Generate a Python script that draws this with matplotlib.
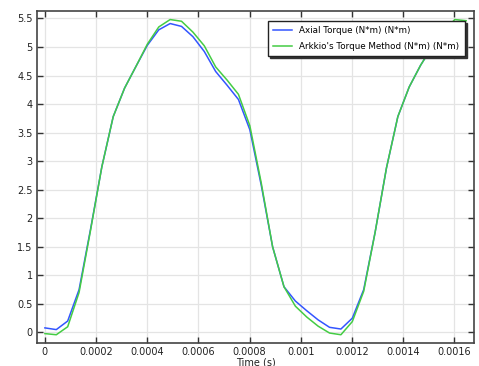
import matplotlib
matplotlib.use("Agg")
import matplotlib.pyplot as plt
from matplotlib.ticker import FuncFormatter

# time samples (s)
time_s = [0.0, 4.45e-5, 8.9e-5, 1.335e-4, 1.78e-4, 2.225e-4, 2.67e-4, 3.115e-4,
          3.56e-4, 4.005e-4, 4.45e-4, 4.895e-4, 5.34e-4, 5.785e-4, 6.23e-4,
          6.675e-4, 7.12e-4, 7.565e-4, 8.01e-4, 8.455e-4, 8.9e-4, 9.345e-4,
          9.79e-4, 1.0235e-3, 1.068e-3, 1.1125e-3, 1.157e-3, 1.2015e-3,
          1.246e-3, 1.2905e-3, 1.335e-3, 1.3795e-3, 1.424e-3, 1.4685e-3,
          1.513e-3, 1.5575e-3, 1.602e-3, 1.6465e-3]

axial_torque = [0.08, 0.05, 0.20, 0.75, 1.80, 2.90, 3.78, 4.28,
                4.66, 5.03, 5.30, 5.41, 5.36, 5.18, 4.92,
                4.57, 4.33, 4.08, 3.55, 2.58, 1.50, 0.80,
                0.55, 0.38, 0.22, 0.09, 0.06, 0.25,
                0.75, 1.75, 2.88, 3.78, 4.30, 4.68,
                5.00, 5.25, 5.40, 5.38]

arkkio_torque = [-0.02, -0.04, 0.10, 0.70, 1.78, 2.90, 3.78, 4.28,
                 4.66, 5.05, 5.35, 5.48, 5.45, 5.26, 5.02,
                 4.65, 4.42, 4.17, 3.62, 2.62, 1.50, 0.80,
                 0.46, 0.27, 0.11, -0.01, -0.04, 0.19,
                 0.72, 1.75, 2.88, 3.78, 4.30, 4.68,
                 5.00, 5.27, 5.48, 5.46]

x_ticks = [0, 0.0002, 0.0004, 0.0006, 0.0008, 0.001, 0.0012, 0.0014, 0.0016]
y_ticks = [0, 0.5, 1, 1.5, 2, 2.5, 3, 3.5, 4, 4.5, 5, 5.5]

plt.rcParams['font.family'] = 'DejaVu Sans'
plt.rcParams['font.size'] = 7

fig = plt.figure(figsize=(4.79, 3.66), dpi=100)
ax = fig.add_axes([0.0772, 0.062, 0.9128, 0.908])

ax.plot(time_s, axial_torque, color='#3355ff', lw=1.1, label='Axial Torque (N*m) (N*m)')
ax.plot(time_s, arkkio_torque, color='#44cc44', lw=1.1, label="Arkkio's Torque Method (N*m) (N*m)")

ax.set_xlim(-3.1e-5, 0.001678)
ax.set_ylim(-0.19, 5.63)
ax.set_xticks(x_ticks)
ax.set_yticks(y_ticks)
ax.xaxis.set_major_formatter(FuncFormatter(lambda v, p: f"{v:g}"))
ax.yaxis.set_major_formatter(FuncFormatter(lambda v, p: f"{v:g}"))
ax.tick_params(direction='in', length=4, width=1, top=True, right=True,
               colors='#333333', labelcolor='#222222', pad=3, labelsize=7)
ax.grid(True, color='#e4e4e4', lw=0.9)
ax.set_axisbelow(True)
for s in ax.spines.values():
    s.set_color('#444444')
    s.set_linewidth(1.2)

ax.set_xlabel('Time (s)', labelpad=0, color='#222222', fontsize=7)

leg = ax.legend(loc='upper right', bbox_to_anchor=(0.9785, 0.97), fancybox=False,
                framealpha=1, edgecolor='#222222', fontsize=6.3,
                shadow={'color': '0.2', 'alpha': 1, 'ox': 1.5, 'oy': -1.5},
                borderpad=0.6, handlelength=2.2, labelspacing=0.75, borderaxespad=0)
leg.get_frame().set_linewidth(1.0)

fig.savefig('out.png', dpi=100)
